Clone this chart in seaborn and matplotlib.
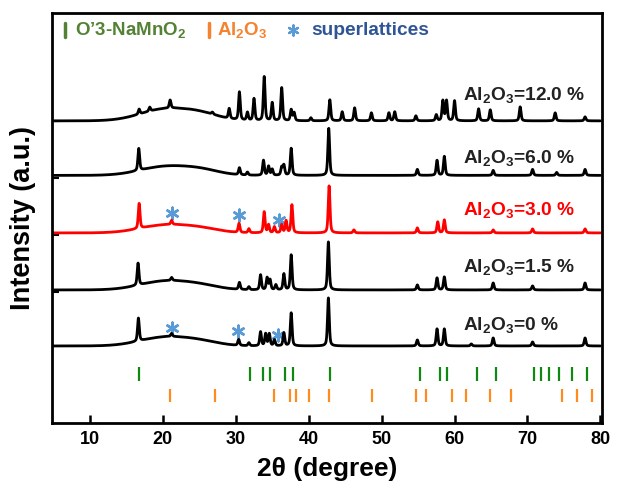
import numpy as np
import pandas as pd
import matplotlib
matplotlib.use("Agg")
import matplotlib.pyplot as plt
import seaborn as sns

# ---------------- data ----------------
x_ticks = [10, 20, 30, 40, 50, 60, 70, 80]
sample_labels = ["0 %", "1.5 %", "3.0 %", "6.0 %", "12.0 %"]
line_colors = ["#000000", "#000000", "#ff0000", "#000000", "#000000"]
baseline_levels = [77, 133, 190, 247.5, 302]      # stacked offsets
hump_main = [9, 9, 8, 9, 12]                      # broad amorphous hump ~20.5 deg
hump_side = [3, 3, 3, 4, 5]                       # shoulder ~25.5 deg

peaks_0_pos = [16.65, 21.2, 30.4, 31.8, 33.4, 34.1, 34.6, 35.3, 36.6, 37.6, 42.7, 54.9, 57.6, 58.6, 62.3, 65.3, 70.7, 77.9]
peaks_0_int = [23, 3, 6, 3, 14, 12, 12, 6, 13, 33, 48, 6, 17, 17, 2, 8, 4, 8]

peaks_15_pos = [16.6, 21.2, 30.5, 31.8, 33.4, 34.3, 34.7, 35.5, 36.6, 37.6, 42.7, 54.9, 57.6, 58.6, 65.3, 70.7, 77.9]
peaks_15_int = [22, 3, 7, 3, 15, 12, 10, 5, 16, 35, 48, 5, 12, 13, 7, 4, 7]

peaks_30_pos = [16.75, 21.2, 30.45, 31.8, 33.9, 34.5, 35.3, 36.3, 36.9, 37.7, 42.8, 46.2, 54.9, 57.7, 58.6, 65.3, 70.7, 77.9]
peaks_30_int = [25, 4, 9, 4, 21, 8, 6, 8, 12, 28, 47, 3, 5, 11, 13, 3, 4, 4]

peaks_60_pos = [16.7, 30.5, 31.6, 33.8, 34.5, 35.0, 36.3, 36.6, 37.6, 42.75, 54.9, 57.6, 58.6, 65.3, 70.7, 74.0, 77.9]
peaks_60_int = [22, 7, 3, 15, 9, 6, 8, 10, 27, 47, 6, 15, 19, 5, 6, 3, 6]

peaks_120_pos = [16.75, 18.2, 21.0, 26.8, 29.1, 30.5, 31.6, 32.5, 33.9, 35.0, 36.3, 37.6, 38.0, 40.3, 42.9, 44.6, 46.3, 48.6, 51.0, 51.8, 54.7, 57.5, 58.4, 58.9, 60.0, 63.3, 64.9, 69.0, 73.8, 77.9]
peaks_120_int = [5, 4, 8, 2, 10, 28, 8, 22, 44, 18, 33, 11, 8, 3, 21, 9, 13, 8, 8, 9, 5, 6, 20, 20, 20, 12, 11, 14, 8, 4]

nano2_refs = [16.7, 31.9, 33.8, 34.7, 36.7, 37.85, 42.9, 55.2, 58.0, 58.9, 63.1, 65.7, 70.9, 71.8, 73.0, 74.3, 76.1, 78.2]
al2o3_refs = [21.0, 27.1, 35.3, 37.5, 38.2, 40.0, 42.8, 48.7, 54.7, 56.1, 59.6, 61.6, 64.8, 67.7, 74.8, 76.8, 78.8]

star_x = [21.3, 30.45, 35.9, 21.2, 30.3, 35.8]
star_y = [209.7, 208, 203, 94.7, 92.3, 88]

peak_pos = [peaks_0_pos, peaks_15_pos, peaks_30_pos, peaks_60_pos, peaks_120_pos]
peak_int = [peaks_0_int, peaks_15_int, peaks_30_int, peaks_60_int, peaks_120_int]

# ---------------- build profiles ----------------
theta = np.linspace(5, 80, 3001)


def pseudo_voigt(x, c, h, fwhm=0.28, eta=0.5):
    s = fwhm / 2.3548
    g = np.exp(-0.5 * ((x - c) / s) ** 2)
    l = 1.0 / (1.0 + ((x - c) / (fwhm / 2)) ** 2)
    return h * (eta * l + (1 - eta) * g)


frames = []
for i, lab in enumerate(sample_labels):
    y = np.full_like(theta, baseline_levels[i], dtype=float)
    y += hump_main[i] * np.exp(-0.5 * ((theta - 20.5) / 3.5) ** 2)
    y += hump_side[i] * np.exp(-0.5 * ((theta - 25.5) / 2.5) ** 2)
    for c, h in zip(peak_pos[i], peak_int[i]):
        y += pseudo_voigt(theta, c, h)
    frames.append(pd.DataFrame({"theta": theta, "I": y, "sample": lab}))
df = pd.concat(frames, ignore_index=True)

# ---------------- plot ----------------
sns.set_theme(style="ticks")
plt.rcParams["font.family"] = ["Liberation Sans", "DejaVu Sans"]
plt.rcParams["mathtext.fontset"] = "custom"
plt.rcParams["mathtext.bf"] = "Liberation Sans:bold"
plt.rcParams["mathtext.rm"] = "Liberation Sans:bold"
plt.rcParams["mathtext.default"] = "bf"

fig = plt.figure(figsize=(6.22, 4.93), dpi=100)
ax = fig.add_axes([0.0836, 0.142, 0.884, 0.832])

sns.lineplot(data=df, x="theta", y="I", hue="sample", palette=dict(zip(sample_labels, line_colors)),
             estimator=None, sort=False, linewidth=2.0, legend=False, ax=ax)

# reference tick marks
ax.vlines(nano2_refs, 42, 56, color="#118811", linewidth=1.6)
ax.vlines(al2o3_refs, 21, 34, color="#ff8a1e", linewidth=1.6)

# superlattice asterisks
sns.scatterplot(x=star_x, y=star_y, marker=(6, 2, 0), s=70, color="#5b9bd5",
                linewidth=1.8, edgecolor="#5b9bd5", ax=ax, legend=False)

# curve labels
label_y = [98, 156, 213, 265, 328]
for i, lab in enumerate(sample_labels):
    ax.text(61.1, label_y[i], r"Al$_2$O$_3$=" + lab, fontsize=13.8, fontweight="bold",
            color=("#ff0000" if line_colors[i] == "#ff0000" else "#222222"),
            va="center", ha="left")

# top legend
ax.plot([0.0236, 0.0236], [0.94, 0.975], transform=ax.transAxes, color="#548235", lw=2.5)
ax.text(0.042, 0.957, "O’3-NaMnO$_2$", transform=ax.transAxes, fontsize=13.5,
        fontweight="bold", color="#548235", va="center")
ax.plot([0.2855, 0.2855], [0.94, 0.975], transform=ax.transAxes, color="#f4822f", lw=2.5)
ax.text(0.300, 0.957, "Al$_2$O$_3$", transform=ax.transAxes, fontsize=13.5,
        fontweight="bold", color="#f4822f", va="center")
ax.scatter([0.438], [0.959], transform=ax.transAxes, marker=(6, 2, 0), s=55,
           color="#5b9bd5", linewidth=1.6)
ax.text(0.472, 0.957, "superlattices", transform=ax.transAxes, fontsize=13.8,
        fontweight="bold", color="#2f5597", va="center")

ax.set_xlim(4.8, 80.2)
ax.set_ylim(0, 410)
ax.set_xticks(x_ticks)
ax.set_xticklabels([str(t) for t in x_ticks], fontsize=13, fontweight="bold")
ax.set_yticks([131, 188, 245, 302])
ax.set_yticklabels([])
ax.tick_params(axis="x", direction="in", length=6, width=1.8, pad=6, colors="black")
ax.tick_params(axis="y", direction="in", length=5, width=1.5, colors="black")
for sp in ax.spines.values():
    sp.set_linewidth(2.0)
    sp.set_color("black")
    sp.set_visible(True)

ax.set_xlabel("2θ (degree)", fontsize=19, fontweight="bold", labelpad=6, color="black")
ax.set_ylabel("Intensity (a.u.)", fontsize=19.5, fontweight="bold", labelpad=8, color="black")

fig.savefig("out.png", dpi=100)
